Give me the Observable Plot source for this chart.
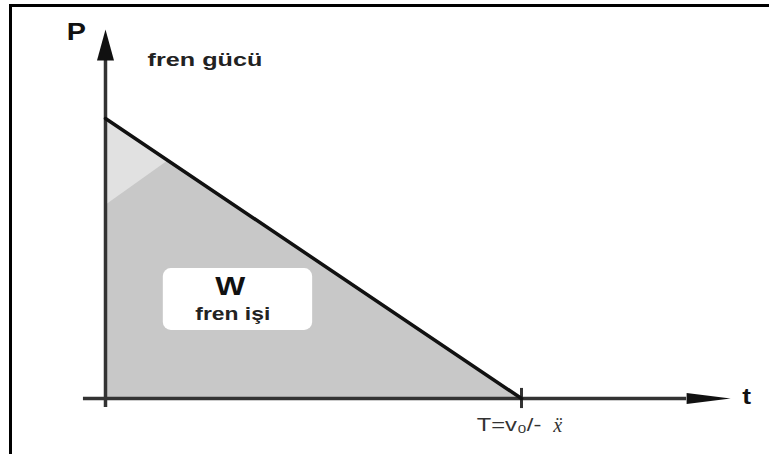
<!DOCTYPE html>
<html>
<head>
<meta charset="utf-8">
<script src="https://cdn.jsdelivr.net/npm/d3@7"></script>
<script src="https://cdn.jsdelivr.net/npm/@observablehq/plot@0.6"></script>
<style>
  html, body { margin: 0; padding: 0; background: #fff; }
  #wrap { position: relative; width: 769px; height: 454px; overflow: hidden; }
  #frame { position: absolute; left: 9px; top: 4px; width: 800px; height: 500px; border: 3px solid #000; box-sizing: border-box; pointer-events: none; }
  #wrap svg { position: absolute; left: 0; top: 0; }
</style>
</head>
<body>
<div id="wrap"><div id="frame"></div></div>
<script>
// Braking power P falls linearly from P0 at t = 0 to 0 at t = T
const timeValues = [0, 1];          // t (in units of T)
const powerValues = [1, 0];         // P (in units of P0)
// lighter shaded corner of the work area (scan artefact)
const lightX = [0, 0.151];
const lightLow = [0.689, 0.849];
const lightHigh = [1, 0.849];
// labels
const labelTexts = ["P", "fren gücü", "W", "fren işi", "t", "T=v₀/-", "x\u0308"];
const labelX = [-0.07, 0.239, 0.3, 0.306, 1.541, 0.97, 1.087];
const labelY = [1.305, 1.207, 0.4, 0.3, 0.004, -0.096, -0.096];
// work box
const boxX = [0.139, 0.498];
const boxY = [0.243, 0.464];

const stretch = (f) => ({
  render(index, scales, values, dims, ctx, next) {
    const g = next(index, scales, values, dims, ctx);
    g.querySelectorAll("text").forEach(t => {
      t.setAttribute("transform", (t.getAttribute("transform") || "") + ` scale(${f},1)`);
    });
    return g;
  }
});

const lbl = (i, opts) => Plot.text([i], {
  x: () => labelX[i], y: () => labelY[i], text: () => labelTexts[i],
  fontFamily: "Liberation Sans, Arial, sans-serif", ...opts
});

const area = timeValues.map((t, i) => ({t, p: powerValues[i]}));
const light = lightX.map((x, i) => ({x, lo: lightLow[i], hi: lightHigh[i]}));

const chart = Plot.plot({
  width: 769, height: 454,
  marginLeft: 0, marginRight: 0, marginTop: 0, marginBottom: 0,
  x: {domain: [-0.2524, 1.5962], axis: null},
  y: {domain: [-0.2, 1.4214], axis: null},
  style: {background: "transparent", overflow: "visible"},
  marks: [
    Plot.areaY(area, {x: "t", y: "p", fill: "#c8c8c8"}),
    Plot.areaY(light, {x: "x", y1: "lo", y2: "hi", fill: "#e1e1e1"}),
    Plot.rect([0], {x1: () => boxX[0], x2: () => boxX[1], y1: () => boxY[0], y2: () => boxY[1], fill: "#fff", rx: 8}),
    // axes
    Plot.ruleX([0], {y1: -0.032, y2: 1.207, stroke: "#333", strokeWidth: 3.5}),
    Plot.ruleY([0], {x1: -0.053, x2: 1.397, stroke: "#333", strokeWidth: 3.5}),
    Plot.vector([0], {x: 0, y: 1.207, length: 31, r: 8.5, rotate: 0, shape: "spike", anchor: "start", fill: "#111", stroke: "none"}),
    Plot.vector([0], {x: 1.397, y: 0, length: 44, r: 5.5, rotate: 90, shape: "spike", anchor: "start", fill: "#111", stroke: "none"}),
    Plot.ruleX([1], {y1: -0.036, y2: 0.036, stroke: "#333", strokeWidth: 3}),
    // power line
    Plot.line(area, {x: "t", y: "p", stroke: "#111", strokeWidth: 3.5}),
    // labels
    lbl(0, {fontSize: 23, fontWeight: "bold", fill: "#111", ...stretch(1.25)}),
    lbl(1, {fontSize: 18, fontWeight: "bold", fill: "#222", ...stretch(1.4)}),
    lbl(2, {fontSize: 25, fontWeight: "bold", fill: "#111", ...stretch(1.27)}),
    lbl(3, {fontSize: 18, fontWeight: "bold", fill: "#222", ...stretch(1.27)}),
    lbl(4, {fontSize: 22, fontWeight: "bold", fill: "#111", ...stretch(1.2)}),
    lbl(5, {fontSize: 19, fill: "#333", ...stretch(1.25)}),
    lbl(6, {fontSize: 20, fill: "#333", fontStyle: "italic", fontFamily: "Liberation Serif, serif"})
  ]
});
document.getElementById("wrap").insertBefore(chart, document.getElementById("frame"));
</script>
</body>
</html>
